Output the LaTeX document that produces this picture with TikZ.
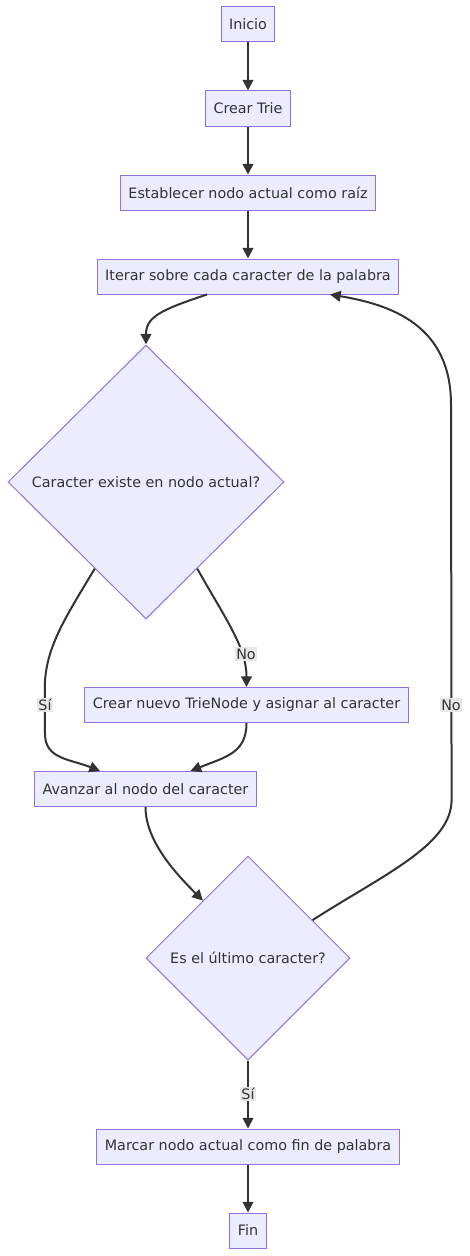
\documentclass[tikz,border=0pt]{standalone}
\usepackage{fontspec}
\setmainfont{DejaVu Sans}
\usetikzlibrary{shapes.geometric,arrows.meta,calc}
\definecolor{nfill}{HTML}{ECECFF}
\definecolor{nborder}{HTML}{9370DB}
\definecolor{ink}{HTML}{333333}
\definecolor{lblbg}{HTML}{E8E8E8}
\begin{document}
\begin{tikzpicture}[x=0.75pt,y=-0.75pt,
  every node/.style={font=\fontsize{10.75pt}{12pt}\selectfont, text=ink},
  box/.style={draw=nborder, fill=nfill, line width=0.75pt, inner xsep=6pt, inner ysep=0pt, minimum height=26.25pt},
  dia/.style={draw=nborder, fill=nfill, line width=0.75pt, diamond, aspect=1, inner sep=0pt},
  arr/.style={draw=ink, line width=1.5pt, -{Triangle[length=8pt,width=8pt]}},
  lbl/.style={fill=lblbg, inner sep=1pt}
]
\useasboundingbox (0,0) rectangle (469,1256);

\node[box] (in) at (248,24.5) {Inicio};
\node[box] (ct) at (248,108.5) {Crear Trie};
\node[box] (es) at (248,192.5) {Establecer nodo actual como raíz};
\node[box] (it) at (248,276.5) {Iterar sobre cada caracter de la palabra};
\node[dia, minimum width=207pt, minimum height=205.5pt] (d1) at (146,482) {Caracter existe en nodo actual?};
\node[box] (cn) at (246.5,705) {Crear nuevo TrieNode y asignar al caracter};
\node[box] (av) at (145.5,789) {Avanzar al nodo del caracter};
\node[dia, minimum width=153pt, minimum height=153pt] (d2) at (248,958) {Es el último caracter?};
\node[box] (ma) at (248,1146.5) {Marcar nodo actual como fin de palabra};
\node[box] (fin) at (248,1230.5) {Fin};

\draw[arr] (in) -- (ct);
\draw[arr] (ct) -- (es);
\draw[arr] (es) -- (it);

\draw[arr] ($(it.south)+(-41,0)$) .. controls +(-45,15) and +(0,-28) .. (d1.north);

\draw[arr] ($(d1.west)!0.63!(d1.south)$) .. controls +(-30,50) and +(0,-40) .. ($(d1.west)!0.63!(d1.south)+(-50,120)$)
  -- ($(av.north)+(-100.5,-37)$) .. controls +(0,25) and +(-30,-12) .. ($(av.north)+(-45.5,0)$);
\node[lbl] (l1) at (45,705) {Sí};

\draw[arr] ($(d1.east)!0.63!(d1.south)$) .. controls +(28,50) and +(0,-40) .. (cn.north);
\node[lbl] (l2) at (246,654) {No};

\draw[arr] (cn.south) .. controls +(0,30) and +(35,-14) .. ($(av.north)+(45,0)$);

\draw[arr] (av.south) .. controls +(0,35) and +(-25,-25) .. ($(d2.west)!0.56!(d2.north)$);

\draw[arr] ($(d2.east)!0.37!(d2.north)$) .. controls +(70,-45) and +(0,45) .. ($(d2.east)!0.37!(d2.north)+(139,-120)$)
  -- ($(it.south)+(203,110)$) .. controls +(0,-80) and +(60,10) .. ($(it.south)+(82,0)$);
\node[lbl] (l3) at (451,705) {No};

\draw[arr] (d2.south) -- (ma.north);
\node[lbl] (l4) at (248,1094) {Sí};
\draw[arr] (ma) -- (fin);
\end{tikzpicture}
\end{document}
